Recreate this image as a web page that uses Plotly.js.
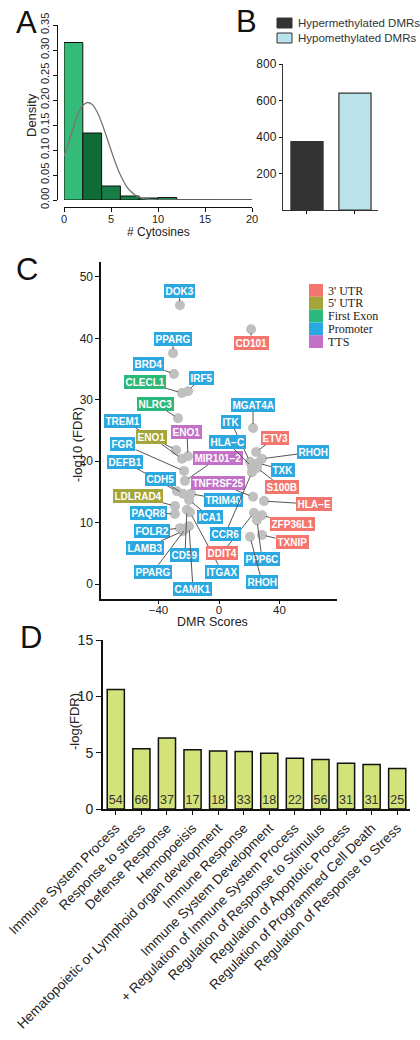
<!DOCTYPE html>
<html><head><meta charset="utf-8">
<script src="https://cdn.plot.ly/plotly-3.0.1.min.js"></script>
<style>html,body{margin:0;padding:0;background:#fff}#chart{width:420px;height:1040px}</style>
</head><body><div id="chart"></div>
<script>
// ---------- Panel A: histogram of # cytosines ----------
const cytosineBinCenters = [1, 3, 5, 7, 9, 11, 13, 15, 17, 19];
const cytosineDensity = [0.315, 0.134, 0.028, 0.008, 0.004, 0.005, 0.001, 0.001, 0.0005, 0.0005];
const densityCurveX = [0, 0.5, 1, 1.5, 2, 2.5, 3, 3.5, 4, 4.5, 5, 5.5, 6, 6.5, 7, 8, 9, 10, 12, 15, 20];
const densityCurveY = [0.088, 0.115, 0.146, 0.173, 0.189, 0.195, 0.191, 0.177, 0.155, 0.128, 0.100, 0.073, 0.050, 0.032, 0.019, 0.005, 0.0012, 0.0003, 0, 0, 0];

// ---------- Panel B: DMR counts ----------
const dmrTypes = ['Hypermethylated DMRs', 'Hypomethylated DMRs'];
const dmrCounts = [375, 640];

// ---------- Panel C: DMR scores vs -log10(FDR) ----------
const genes = ['DOK3','PPARG','BRD4','CLECL1','IRF5','CD101','NLRC3','MGAT4A','TREM1','ENO1','ENO1','FGR','MIR101\u22122','DEFB1','CDH5','TRIM40','ICA1','TNFRSF25','LDLRAD4','PAQR8','FOLR2','LAMB3','PPARG','CD59','CAMK1','ITGAX','DDIT4','CCR6','ITK','HLA\u2212C','ETV3','RHOH','TXK','S100B','HLA\u2212E','ZFP36L1','TXNIP','PPP6C','RHOH'];
const geneRegions = ['Promoter','Promoter','Promoter','First Exon','Promoter',"3' UTR",'First Exon','Promoter','Promoter',"5' UTR",'TTS','Promoter','TTS','Promoter','Promoter','Promoter','Promoter','TTS',"5' UTR",'Promoter','Promoter','Promoter','Promoter','Promoter','Promoter','Promoter',"3' UTR",'Promoter','Promoter','Promoter',"3' UTR",'Promoter','Promoter',"3' UTR","3' UTR","3' UTR","3' UTR",'Promoter','Promoter'];
const dmrScores = [-25.8,-30.4,-29.8,-24.5,-20.5,21.2,-27.1,22.5,-28.4,-24.5,-20.5,-23.1,-22.5,-27.8,-23.8,-18.5,-19.8,22.5,-29.1,-29.1,-25.8,-23.8,-21.8,-21.2,-19.8,-19.2,23.1,21.8,20.5,21.8,24.5,28.4,25.8,25.1,29.8,28.4,28.4,25.1,20.5];
const negLog10FDR = [45.4,37.6,34.2,31.1,31.4,41.5,27.0,25.4,21.8,20.4,20.8,18.4,16.8,15.1,14.7,14.7,13.7,14.2,12.7,11.4,9.1,8.6,9.1,12.1,9.4,11.7,11.6,18.2,19.9,19.1,21.5,20.4,19.7,18.9,13.5,11.2,8.0,10.4,7.7];
const regionNames = ["3' UTR", "5' UTR", 'First Exon', 'Promoter', 'TTS'];

// ---------- Panel D: GO enrichment ----------
const goTerms = ['Immune System Process','Response to stress','Defense Response','Hemopoeisis','Hematopoietic or Lymphoid organ development','Immune Response','Immune System Development','+ Regulation of Immune System Process','Regulation of Response to Stimulus','Regulation of Apoptotic Process','Regulation of Programmed Cell Death','Regulation of Response to Stress'];
const goNegLogFDR = [10.6, 5.35, 6.3, 5.25, 5.15, 5.1, 4.95, 4.5, 4.4, 4.05, 3.95, 3.6];
const goGeneCounts = [54, 66, 37, 17, 18, 33, 18, 22, 56, 31, 31, 25];

// ---------- styles / label placement (layout, not data) ----------
const histColors = ['#33bb77','#116b38','#167d44','#167d44','#1b7f46','#1f8a4c','#2a9a58','#2a9a58','#35a862','#35a862'];
const dmrColors = ['#333333', '#b9e2ea'];
const regionColors = {"3' UTR": '#f2756e', "5' UTR": '#a3a43a', 'First Exon': '#2cb87a', 'Promoter': '#2ba8e0', 'TTS': '#c271c6'};
const labelX = [-26.4,-30.4,-46.3,-48.9,-11.9,21.2,-41.7,22.5,-63.5,-44.3,-21.2,-63.5,-0.7,-62.1,-39.0,3.3,-6.0,-0.7,-53.6,-46.9,-44.3,-48.9,-43.6,-22.5,-17.2,2.0,2.0,4.0,7.9,5.3,37.0,62.1,42.3,41.7,62.8,48.3,48.3,28.4,28.4];
const labelY = [47.7,39.9,35.8,32.9,33.6,39.3,29.3,29.2,26.5,23.9,24.8,22.8,20.5,19.9,17.1,13.7,10.9,16.4,14.3,11.6,8.6,5.9,2.0,4.7,-0.8,2.0,5.0,8.1,26.4,23.1,23.8,21.5,18.6,15.8,13.0,9.8,6.8,4.1,0.3];

const W = 420, H = 1040;
const px = v => v / W;
const py = v => 1 - v / H;
const FONT = 'Liberation Sans, Arial, sans-serif';

const traces = [
  { type: 'bar', x: cytosineBinCenters, y: cytosineDensity, width: 2, xaxis: 'x', yaxis: 'y',
    marker: { color: histColors, line: { color: '#111', width: 1 } }, hoverinfo: 'skip' },
  { type: 'scatter', mode: 'lines', x: densityCurveX, y: densityCurveY, xaxis: 'x', yaxis: 'y',
    line: { color: '#777', width: 1.3, shape: 'spline' }, hoverinfo: 'skip' },
  { type: 'bar', x: dmrTypes, y: dmrCounts, width: 0.67, xaxis: 'x2', yaxis: 'y2',
    marker: { color: dmrColors, line: { color: '#333', width: 1.2 } } },
  { type: 'scatter', mode: 'markers', x: dmrScores, y: negLog10FDR, xaxis: 'x3', yaxis: 'y3',
    marker: { color: '#bdbdbd', size: 10, opacity: 0.95 } },
  { type: 'bar', x: goTerms, y: goNegLogFDR, width: 0.67, xaxis: 'x4', yaxis: 'y4',
    marker: { color: '#d4e27a', line: { color: '#111', width: 1.5 } } },
  { type: 'scatter', mode: 'text', x: goTerms, y: goGeneCounts.map(() => 0.75), text: goGeneCounts.map(String),
    xaxis: 'x4', yaxis: 'y4', textfont: { size: 12.5, color: '#333', family: FONT }, hoverinfo: 'skip' }
];

const axBase = { showgrid: false, zeroline: false, showline: true, linecolor: '#111', ticks: 'outside',
  tickcolor: '#111', tickfont: { size: 12, color: '#222', family: FONT } };

const annotations = [];
const shapes = [];
// panel letters
[['A', 26, 22], ['B', 246, 21], ['C', 27, 270], ['D', 31, 637]].forEach(([t, x, y]) => {
  annotations.push({ text: t, xref: 'paper', yref: 'paper', x: px(x), y: py(y), showarrow: false,
    xanchor: 'center', yanchor: 'middle', font: { size: 31, color: '#111', family: FONT } });
});
// axis titles
const titles = [
  ['Density', 31, 115, -90, 13], ['# Cytosines', 158, 232, 0, 12],
  ['-log10 (FDR)', 77, 445, -90, 13], ['DMR Scores', 212, 622, 0, 12.5],
  ['-log(FDR)', 74, 722, -90, 13]
];
titles.forEach(([t, x, y, a, s]) => annotations.push({ text: t, xref: 'paper', yref: 'paper', x: px(x), y: py(y),
  showarrow: false, textangle: a, xanchor: 'center', yanchor: 'middle', font: { size: s, color: '#222', family: FONT } }));
// Panel B legend
dmrTypes.forEach((t, i) => {
  const yc = 23 + i * 15;
  shapes.push({ type: 'rect', xref: 'paper', yref: 'paper', x0: px(277), x1: px(292), y0: py(yc - 5), y1: py(yc + 5),
    fillcolor: dmrColors[i], line: { color: '#333', width: 1 } });
  annotations.push({ text: t, xref: 'paper', yref: 'paper', x: px(296), y: py(yc), showarrow: false,
    xanchor: 'left', yanchor: 'middle', font: { size: 11.5, color: '#333', family: FONT } });
});
// Panel C legend
regionNames.forEach((r, i) => {
  const y0 = 284 + i * 12.8;
  shapes.push({ type: 'rect', xref: 'paper', yref: 'paper', x0: px(309), x1: px(323), y0: py(y0), y1: py(y0 + 12.8),
    fillcolor: regionColors[r], line: { width: 0 } });
  annotations.push({ text: r, xref: 'paper', yref: 'paper', x: px(326), y: py(y0 + 6.6), showarrow: false,
    xanchor: 'left', yanchor: 'middle', font: { size: 12, color: '#222', family: 'Liberation Serif, Times New Roman, serif' } });
});
// Panel C gene labels
genes.forEach((g, i) => {
  annotations.push({ x: dmrScores[i], y: negLog10FDR[i], xref: 'x3', yref: 'y3',
    ax: labelX[i], ay: labelY[i], axref: 'x3', ayref: 'y3',
    text: '<b>' + g + '</b>', showarrow: true, arrowhead: 0, arrowwidth: 1, arrowcolor: '#555', standoff: 4,
    bgcolor: regionColors[geneRegions[i]], borderpad: 1.5, borderwidth: 0,
    font: { size: 10, color: '#fff', family: FONT } });
});

const layout = {
  width: W, height: H, margin: { l: 0, r: 0, t: 0, b: 0 }, showlegend: false,
  paper_bgcolor: '#fff', plot_bgcolor: '#fff', font: { family: FONT, color: '#222' }, bargap: 0,
  xaxis: Object.assign({}, axBase, { domain: [px(64), px(252)], range: [0, 20], anchor: 'free', position: py(207),
    tickvals: [0, 5, 10, 15, 20], ticklen: 4, linewidth: 1, ticklabelstandoff: -2,
    tickfont: { size: 11, color: '#222', family: FONT } }),
  yaxis: Object.assign({}, axBase, { domain: [py(200), py(25)], range: [0, 0.35], anchor: 'free', position: px(57),
    tickvals: [0, 0.05, 0.1, 0.15, 0.2, 0.25, 0.3, 0.35], tickformat: '.2f', tickangle: -90, ticklen: 4, linewidth: 1,
    tickfont: { size: 11, color: '#222', family: FONT } }),
  xaxis2: Object.assign({}, axBase, { domain: [px(283), px(378)], type: 'category', range: [-0.5, 1.48], anchor: 'y2',
    showticklabels: false, ticklen: 3, linewidth: 1.2, linecolor: '#333' }),
  yaxis2: Object.assign({}, axBase, { domain: [py(210), py(64)], range: [0, 800], anchor: 'x2',
    tickvals: [200, 400, 600, 800], ticklen: 3, linewidth: 1.2, linecolor: '#333' }),
  xaxis3: Object.assign({}, axBase, { domain: [px(101), px(337)], range: [-78, 78], anchor: 'y3',
    tickvals: [-40, 0, 40], ticktext: ['\u221240', '0', '40'], ticklen: 3, linewidth: 1.6, ticklabelstandoff: -3,
    tickfont: { size: 11.5, color: '#222', family: FONT } }),
  yaxis3: Object.assign({}, axBase, { domain: [py(599), py(262)], range: [-2.44, 52.44], anchor: 'x3',
    tickvals: [0, 10, 20, 30, 40, 50], ticklen: 4, linewidth: 1.6 }),
  xaxis4: Object.assign({}, axBase, { domain: [px(103), px(410)], type: 'category', range: [-0.5, 11.5], anchor: 'y4',
    tickangle: -45, ticklen: 4, linewidth: 2, tickfont: { size: 13.5, color: '#222', family: FONT } }),
  yaxis4: Object.assign({}, axBase, { domain: [py(809), py(640)], range: [0, 15], anchor: 'x4',
    tickvals: [0, 5, 10, 15], ticklen: 5, linewidth: 2, tickfont: { size: 14, color: '#222', family: FONT } }),
  annotations: annotations,
  shapes: shapes
};

Plotly.newPlot('chart', traces, layout, { staticPlot: true });
</script>
</body></html>
